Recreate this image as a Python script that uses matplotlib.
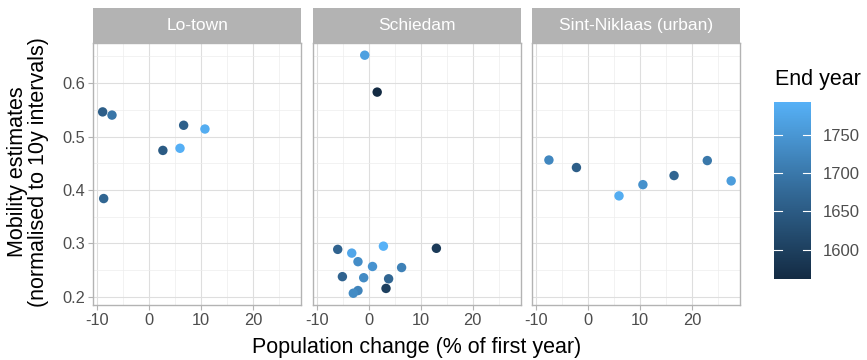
import numpy as np
import matplotlib.pyplot as plt
from matplotlib.colors import LinearSegmentedColormap, Normalize
from matplotlib.cm import ScalarMappable

plt.rcParams['font.family'] = ['Liberation Sans', 'DejaVu Sans']
plt.rcParams['axes.unicode_minus'] = False

# data
panels = ["Lo-town", "Schiedam", "Sint-Niklaas (urban)"]

lotown_x = [-9.0, -7.2, 6.6, 10.7, 2.6, 5.9, -8.8]
lotown_y = [0.546, 0.540, 0.521, 0.514, 0.474, 0.478, 0.384]
lotown_end = [1655, 1695, 1660, 1785, 1650, 1790, 1670]

schiedam_x = [-0.8, 1.6, -6.0, -3.3, 2.8, 13.0, -2.1, 0.7, 6.3, -5.1, -1.0, 3.8, 3.3, -2.1, -3.0]
schiedam_y = [0.652, 0.583, 0.289, 0.282, 0.295, 0.291, 0.266, 0.257, 0.255, 0.238, 0.236, 0.234, 0.216, 0.212, 0.207]
schiedam_end = [1765, 1562, 1665, 1775, 1793, 1590, 1735, 1745, 1715, 1665, 1730, 1670, 1600, 1720, 1730]

sint_x = [-7.6, -2.3, 5.9, 10.5, 16.5, 22.9, 27.5]
sint_y = [0.456, 0.442, 0.389, 0.410, 0.427, 0.455, 0.417]
sint_end = [1725, 1655, 1785, 1740, 1670, 1700, 1760]

xs = [lotown_x, schiedam_x, sint_x]
ys = [lotown_y, schiedam_y, sint_y]
ends = [lotown_end, schiedam_end, sint_end]

end_min, end_max = 1562, 1793
cmap = LinearSegmentedColormap.from_list("gg", ["#132B43", "#336A98", "#56B1F7"])
norm = Normalize(end_min, end_max)

W, H = 867, 360
def box(l, t, r, b):
    return [l / W, 1 - b / H, (r - l) / W, (b - t) / H]

fig = plt.figure(figsize=(W / 100, H / 100), dpi=100)

lefts = [93.3, 312.8, 532.3]
pw = 207.7
for i, name in enumerate(panels):
    l = lefts[i]
    ax = fig.add_axes(box(l, 43, l + pw, 305))
    ax.set_xlim(-10.8, 29.2)
    ax.set_ylim(0.185, 0.6748)
    ax.set_xticks([-10, 0, 10, 20])
    ax.set_yticks([0.2, 0.3, 0.4, 0.5, 0.6])
    ax.set_xticks([-5, 5, 15, 25], minor=True)
    ax.set_yticks([0.25, 0.35, 0.45, 0.55, 0.65], minor=True)
    ax.grid(True, which="major", color="#DEDEDE", lw=0.8)
    ax.grid(True, which="minor", color="#EDEDED", lw=0.5)
    ax.set_axisbelow(True)
    for s in ax.spines.values():
        s.set_color("#B3B3B3")
        s.set_linewidth(1.0)
    ax.tick_params(which="major", length=3.5, width=0.8, color="#B3B3B3",
                   labelsize=11.8, labelcolor="#4D4D4D", pad=2.5)
    ax.tick_params(which="minor", length=0)
    if i > 0:
        ax.tick_params(axis="y", left=False, labelleft=False)
    ax.scatter(xs[i], ys[i], c=ends[i], cmap=cmap, norm=norm, s=46,
               linewidths=0, zorder=3)

    sax = fig.add_axes(box(l, 8, l + pw, 43))
    sax.set_facecolor("#B3B3B3")
    sax.set_xticks([])
    sax.set_yticks([])
    for s in sax.spines.values():
        s.set_visible(False)
    sax.text(0.5, 0.5, name, color="white", fontsize=12.5,
             ha="center", va="center", transform=sax.transAxes)

fig.text(416.7 / W, 1 - 347 / H, "Population change (% of first year)",
         fontsize=15.5, ha="center", va="center")
fig.text(28 / W, 1 - 172 / H, "Mobility estimates\n(normalised to 10y intervals)",
         fontsize=15.5, ha="center", va="center", rotation=90,
         multialignment="center", linespacing=1.05)

cax = fig.add_axes(box(774.3, 101.7, 810.7, 279))
cb = fig.colorbar(ScalarMappable(norm=norm, cmap=cmap), cax=cax)
cb.outline.set_visible(False)
cb.set_ticks([1600, 1650, 1700, 1750])
cax.tick_params(length=0, labelsize=12, labelcolor="#4D4D4D", pad=9)
for t in [1600, 1650, 1700, 1750]:
    cax.plot([0, 0.2], [t, t], color="white", lw=0.8)
    cax.plot([0.8, 1.0], [t, t], color="white", lw=0.8)
fig.text(775 / W, 1 - 80 / H, "End year", fontsize=15.5, ha="left", va="center")

fig.savefig("out.png", dpi=100)
